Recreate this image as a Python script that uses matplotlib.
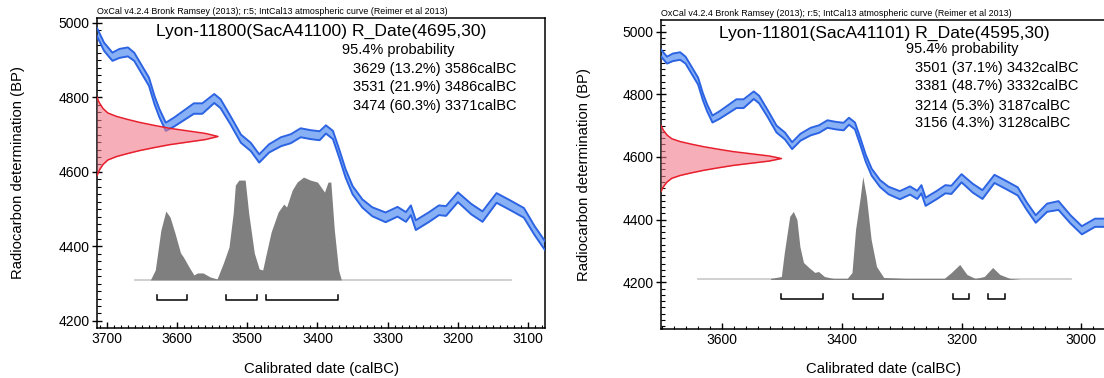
import numpy as np
import matplotlib.pyplot as plt
from matplotlib.ticker import MultipleLocator
from matplotlib.transforms import blended_transform_factory

plt.rcParams['font.family'] = ['Liberation Sans', 'DejaVu Sans']

header = 'OxCal v4.2.4 Bronk Ramsey (2013); r:5; IntCal13 atmospheric curve (Reimer et al 2013)'

# IntCal13 curve: calBC, BP and 1 sigma
cal_bc = [3714, 3704, 3692, 3682, 3670, 3661, 3651, 3640, 3632, 3625, 3616, 3604,
          3590, 3576, 3564, 3547, 3538, 3524, 3509, 3495, 3483, 3469, 3452, 3438,
          3424, 3410, 3397, 3388, 3378, 3369, 3360, 3350, 3336, 3322, 3303, 3286,
          3274, 3267, 3260, 3241, 3227, 3217, 3200, 3181, 3165, 3145, 3127, 3106,
          3091, 3076, 3057, 3038, 3018, 2999, 2977, 2955]
cal_bp = [4975, 4936, 4909, 4918, 4922, 4909, 4877, 4842, 4792, 4757, 4721, 4734,
          4752, 4770, 4770, 4797, 4783, 4739, 4689, 4667, 4636, 4663, 4681, 4689,
          4705, 4700, 4697, 4714, 4699, 4649, 4596, 4551, 4515, 4493, 4478, 4493,
          4479, 4497, 4457, 4479, 4497, 4495, 4532, 4500, 4480, 4530, 4512, 4490,
          4443, 4402, 4438, 4445, 4401, 4366, 4390, 4390]
cal_sig = [11, 11, 11, 12, 12, 11, 11, 11, 11, 11, 11, 12,
           13, 14, 14, 12, 12, 11, 11, 11, 11, 11, 12, 12,
           12, 12, 12, 11, 11, 11, 11, 11, 11, 12, 13, 13,
           13, 13, 13, 13, 13, 13, 13, 14, 14, 13, 13, 13,
           12, 12, 13, 14, 13, 13, 13, 13]

# radiocarbon measurement profile (offset from mean in BP, relative width)
like_off = [-105, -90, -75, -63, -54, -46, -38, -30, -22, -15, -8, 0,
            8, 15, 22, 30, 38, 46, 54, 63, 75, 90, 105]
like_w = [0, 0.02, 0.05, 0.09, 0.16, 0.25, 0.35, 0.47, 0.6, 0.75, 0.9, 1.0,
          0.9, 0.75, 0.6, 0.47, 0.35, 0.25, 0.16, 0.09, 0.05, 0.02, 0]

# Lyon-11800
title1 = 'Lyon-11800(SacA41100) R_Date(4695,30)'
mean1 = 4695
ranges1 = [(3629, 13.2, 3586), (3531, 21.9, 3486), (3474, 60.3, 3371)]
post1_bc = [3638, 3631, 3623, 3616, 3610, 3603, 3595, 3591, 3583, 3576, 3571, 3563,
            3553, 3543, 3534, 3526, 3520, 3517, 3512, 3503, 3498, 3490, 3483, 3478,
            3474, 3466, 3456, 3448, 3444, 3436, 3429, 3420, 3410, 3400, 3395, 3390,
            3385, 3381, 3376, 3370, 3366]
post1_p = [0, 10, 50, 69, 63, 47, 27, 23, 13, 5, 7, 7,
           3, 1, 17, 33, 67, 95, 100, 100, 67, 27, 11, 10,
           23, 48, 68, 76, 73, 90, 98, 103, 100, 98, 93, 88,
           98, 98, 50, 10, 0]
base1 = (3660, 3125)

# Lyon-11801
title2 = 'Lyon-11801(SacA41101) R_Date(4595,30)'
mean2 = 4595
ranges2 = [(3501, 37.1, 3432), (3381, 48.7, 3332), (3214, 5.3, 3187), (3156, 4.3, 3128)]
post2_bc = [3519, 3501, 3496, 3487, 3481, 3475, 3470, 3464, 3455, 3445, 3439, 3429,
            3414, 3391, 3383, 3377, 3369, 3365, 3359, 3351, 3342, 3330, 3293, 3229,
            3217, 3203, 3191, 3177, 3162, 3148, 3136, 3119, 3101]
post2_p = [1, 3, 27, 63, 68, 60, 33, 17, 12, 7, 8, 3,
           1, 1, 7, 50, 83, 103, 83, 40, 13, 2, 1, 1,
           7, 15, 5, 1, 3, 12, 5, 1, 0]
base2 = (3641, 3017)

W, H = 1104, 378
fig = plt.figure(figsize=(W / 100, H / 100), dpi=100)


def panel(px, xlim, ylim, xmajor, xminor, title, mean, ranges, post_bc, post_p,
          base, base_bp, peak_bp, bracket_bp, text_pos, ylab_x):
    l, t, r, b = px
    ax = fig.add_axes([l / W, 1 - b / H, (r - l) / W, (b - t) / H])
    ax.set_xlim(*xlim)
    ax.set_ylim(*ylim)

    bc = np.array(cal_bc)
    bp = np.array(cal_bp)
    sg = np.array(cal_sig)
    ax.fill_between(bc, bp - sg, bp + sg, color='#88b0f5', lw=0, zorder=2)
    ax.plot(bc, bp + sg, color='#2b63e3', lw=1.4, zorder=3)
    ax.plot(bc, bp - sg, color='#2b63e3', lw=1.4, zorder=3)

    # measurement on the y axis
    tr = blended_transform_factory(ax.transAxes, ax.transData)
    yy = mean + np.array(like_off)
    ww = np.array(like_w) * 0.27
    ax.fill_betweenx(yy, 0, ww, transform=tr, color='#f07b8a', alpha=0.6, lw=0, zorder=4)
    ax.plot(ww, yy, transform=tr, color='#e8202e', lw=1.1, zorder=5)

    # calibrated distribution
    ax.plot(base, [base_bp, base_bp], color='#cdcdcd', lw=1.3, zorder=2)
    pb = base_bp + np.array(post_p) / 103 * peak_bp
    ax.fill_between(post_bc, base_bp, pb, color='#7f7f7f', lw=0, zorder=3)

    # 95.4% ranges
    tick_h = (ylim[1] - ylim[0]) / (b - t) * 5
    for a, p, c in ranges:
        ax.plot([a, a, c, c], [bracket_bp + tick_h, bracket_bp, bracket_bp, bracket_bp + tick_h],
                color='black', lw=1.1, zorder=6)

    ax.text(0.5, text_pos[0], title, transform=ax.transAxes, ha='center', va='center',
            fontsize=12.6)
    ax.text(text_pos[1], text_pos[2], '95.4% probability', transform=ax.transAxes,
            ha='left', va='center', fontsize=10.5)
    for i, (a, p, c) in enumerate(ranges):
        ax.text(text_pos[3], text_pos[4][i], f'{a} ({p}%) {c}calBC', transform=ax.transAxes,
                ha='left', va='center', fontsize=10.5)
    ax.text(0, 1.005, header, transform=ax.transAxes, ha='left', va='bottom', fontsize=6.4)

    ax.xaxis.set_major_locator(MultipleLocator(xmajor))
    ax.xaxis.set_minor_locator(MultipleLocator(xminor))
    ax.yaxis.set_major_locator(MultipleLocator(200))
    ax.yaxis.set_minor_locator(MultipleLocator(20))
    ax.tick_params(axis='x', which='major', direction='in', length=4, width=1, labelsize=10, pad=3)
    ax.tick_params(axis='x', which='minor', direction='in', length=2.2, width=0.8)
    ax.tick_params(axis='y', which='major', direction='inout', length=7, width=1, labelsize=10, pad=2)
    ax.tick_params(axis='y', which='minor', direction='in', length=3, width=0.8)
    for s in ax.spines.values():
        s.set_linewidth(1.1)

    ax.set_xlabel('Calibrated date (calBC)', fontsize=10.7)
    ax.set_ylabel('Radiocarbon determination (BP)', fontsize=10.7)
    ax.xaxis.label.set_va('center')
    ax.yaxis.label.set_va('center')
    ax.xaxis.set_label_coords(0.5, (b - 369) / (b - t))
    ax.yaxis.set_label_coords((ylab_x - l) / (r - l), 0.5)
    return ax


panel((97, 18, 545, 328), (3714, 3076), (4181, 5013), 100, 10,
      title1, mean1, ranges1, post1_bc, post1_p, base1, 4310, 276, 4257,
      (0.958, 0.547, 0.897, 0.571, [0.835, 0.777, 0.716]), 18)
panel((661, 20, 1107, 329), (3702, 2957), (4051, 5037), 200, 20,
      title2, mean2, ranges2, post2_bc, post2_p, base2, 4209, 329, 4148,
      (0.958, 0.549, 0.906, 0.570, [0.845, 0.786, 0.722, 0.667]), 584)

fig.savefig('out.png', dpi=100)
